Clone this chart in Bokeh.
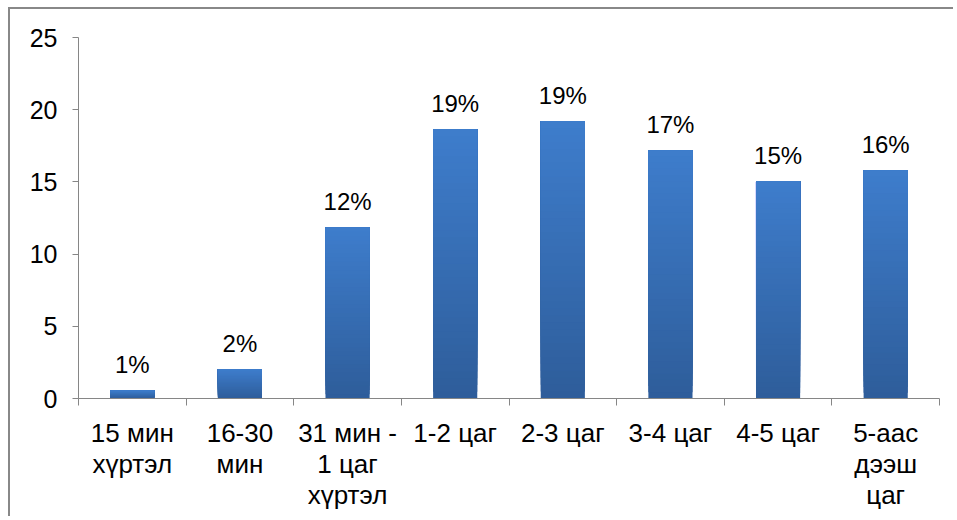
from bokeh.plotting import figure
from bokeh.models import Range1d, FixedTicker, ColumnDataSource
from bokeh.core.properties import value
from bokeh.embed import file_html
from bokeh.resources import INLINE

categories = ["15 мин\nхүртэл", "16-30\nмин", "31 мин -\n1 цаг\nхүртэл", "1-2 цаг",
              "2-3 цаг", "3-4 цаг", "4-5 цаг", "5-аас\nдээш\nцаг"]
values = [0.55, 2.0, 11.85, 18.65, 19.2, 17.2, 15.05, 15.8]
labels = ["1%", "2%", "12%", "19%", "19%", "17%", "15%", "16%"]
y_ticks = [0, 5, 10, 15, 20, 25]

FONT = "Liberation Sans"
AXIS_COLOR = "#868686"

p = figure(width=945, height=509, output_backend="svg", toolbar_location=None,
           x_range=Range1d(0, len(categories)), y_range=Range1d(0, 25),
           min_border_left=68, min_border_right=16, min_border_top=28, min_border_bottom=120)
p.styles = {"border-top": "2px solid #888888", "border-left": "2px solid #888888",
            "margin-left": "8px", "margin-top": "7px"}
p.outline_line_color = None
p.background_fill_color = "white"
p.border_fill_color = "white"
p.xgrid.visible = False
p.ygrid.visible = False

xs = [i + 0.5 for i in range(len(categories))]

# gradient bars: overlapping slices from dark (bottom) to light (top)
dark = (0x2E, 0x5D, 0x9A)
light = (0x3E, 0x7D, 0xCC)
N = 40
l, r, b, t, c = [], [], [], [], []
bw = 0.41
for x, v in zip(xs, values):
    for k in range(N):
        f = (k + 0.5) / N
        col = tuple(int(round(dark[j] + (light[j] - dark[j]) * f)) for j in range(3))
        l.append(x - bw / 2)
        r.append(x + bw / 2)
        b.append(v * k / N)
        t.append(v)
        c.append("#%02x%02x%02x" % col)
p.quad(left=l, right=r, bottom=b, top=t, fill_color=c, line_color=None)

src = ColumnDataSource(dict(x=xs, y=values, lab=labels))
p.text(x="x", y="y", text="lab", source=src, text_align="center", text_baseline="alphabetic",
       y_offset=-26, text_font=value(FONT), text_font_size="24px", text_color="black")

# y axis
ya = p.yaxis[0]
ya.ticker = FixedTicker(ticks=y_ticks)
ya.axis_line_color = AXIS_COLOR
ya.major_tick_line_color = AXIS_COLOR
ya.major_tick_out = 6
ya.major_tick_in = 0
ya.minor_tick_line_color = None
ya.major_label_text_font = FONT
ya.major_label_text_font_size = "25px"
ya.major_label_text_color = "black"
ya.major_label_standoff = 15

# x axis
xa = p.xaxis[0]
xa.ticker = FixedTicker(ticks=xs, minor_ticks=list(range(len(categories) + 1)))
xa.major_label_overrides = {x: cat for x, cat in zip(xs, categories)}
xa.axis_line_color = AXIS_COLOR
xa.major_tick_line_color = None
xa.minor_tick_line_color = AXIS_COLOR
xa.minor_tick_out = 7
xa.minor_tick_in = 0
xa.major_label_text_font = FONT
xa.major_label_text_font_size = "26px"
xa.major_label_text_color = "black"
xa.major_label_text_line_height = 1.04
xa.major_label_standoff = 12

open("out.html", "w").write(file_html(p, INLINE))
